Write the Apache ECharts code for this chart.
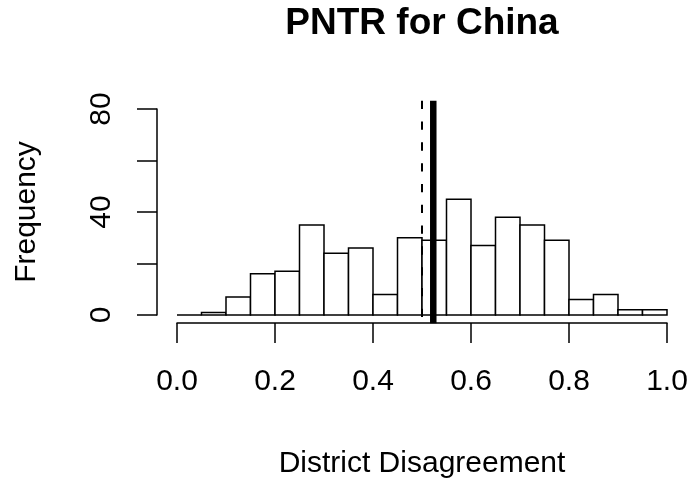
<!DOCTYPE html>
<html>
<head>
<meta charset="utf-8">
<script src="https://cdn.jsdelivr.net/npm/echarts@6/dist/echarts.min.js"></script>
<style>
  html, body { margin: 0; padding: 0; background: #fff; }
  #chart { width: 692px; height: 482px; }
</style>
</head>
<body>
<div id="chart"></div>
<script>
// histogram bins (left edges + last right edge) and counts
const breaks = [0.0, 0.05, 0.1, 0.15, 0.2, 0.25, 0.3, 0.35, 0.4, 0.45, 0.5,
  0.55, 0.6, 0.65, 0.7, 0.75, 0.8, 0.85, 0.9, 0.95, 1.0]
const counts = [0, 1, 7, 16, 17, 35, 24, 26, 8, 30, 29, 45, 27, 38, 35, 29, 6, 8, 2, 2]
// vertical reference lines
const dashedAt = 0.5
const solidAt = 0.523
// axis ticks
const xTicks = [0, 0.2, 0.4, 0.6, 0.8, 1.0]
const yTicks = [0, 20, 40, 60, 80]
const yLabels = [0, 40, 80]
// plot region edges in data units (R extends the range by 4%)
const yLow = -3.2
const yHigh = 83.2

const font = 'Liberation Sans, Arial, sans-serif'
const chart = echarts.init(document.getElementById('chart'))

const bins = counts.map((c, i) => [breaks[i], breaks[i + 1], c])

const option = {
  animation: false,
  backgroundColor: '#fff',
  title: {
    text: 'PNTR for China',
    left: 417,
    textAlign: 'center',
    top: 0,
    textStyle: { fontFamily: font, fontSize: 37, fontWeight: 'bold', color: '#000' }
  },
  grid: { left: 177, right: 25, top: 109, bottom: 167 },
  xAxis: {
    type: 'value',
    min: xTicks[0],
    max: xTicks[xTicks.length - 1],
    interval: 0.2,
    offset: 8,
    name: 'District Disagreement',
    nameLocation: 'middle',
    nameGap: 126,
    nameTextStyle: { fontFamily: font, fontSize: 30, color: '#000' },
    axisLine: { show: true, onZero: false, lineStyle: { color: '#000', width: 1.5 } },
    axisTick: { show: true, length: 20, lineStyle: { color: '#000', width: 1.5 } },
    axisLabel: {
      margin: 44,
      fontFamily: font,
      fontSize: 30,
      color: '#000',
      formatter: (v) => v.toFixed(1)
    },
    splitLine: { show: false }
  },
  yAxis: {
    type: 'value',
    min: yTicks[0],
    max: yTicks[yTicks.length - 1],
    interval: 20,
    offset: 20,
    name: 'Frequency',
    nameLocation: 'middle',
    nameRotate: 90,
    nameGap: 115,
    nameTextStyle: { fontFamily: font, fontSize: 30, color: '#000' },
    axisLine: { show: true, onZero: false, lineStyle: { color: '#000', width: 1.5 } },
    axisTick: { show: true, length: 20, lineStyle: { color: '#000', width: 1.5 } },
    axisLabel: {
      margin: 40,
      rotate: 90,
      fontFamily: font,
      fontSize: 30,
      color: '#000',
      formatter: (v) => (yLabels.includes(v) ? String(v) : '')
    },
    splitLine: { show: false }
  },
  series: [
    {
      type: 'custom',
      data: bins,
      encode: { x: [0, 1], y: 2 },
      z: 2,
      renderItem: (params, api) => {
        const p0 = api.coord([api.value(0), 0])
        const p1 = api.coord([api.value(1), api.value(2)])
        return {
          type: 'rect',
          shape: { x: p0[0], y: p1[1], width: p1[0] - p0[0], height: p0[1] - p1[1] },
          style: { fill: '#fff', stroke: '#000', lineWidth: 1.5 }
        }
      }
    },
    {
      type: 'line',
      data: [[dashedAt, yHigh], [dashedAt, yLow]],
      symbol: 'none',
      clip: false,
      z: 3,
      lineStyle: { color: '#000', width: 2, type: [8.3, 12.5] }
    },
    {
      type: 'line',
      data: [[solidAt, yHigh], [solidAt, yLow]],
      symbol: 'none',
      clip: false,
      z: 3,
      lineStyle: { color: '#000', width: 6.5 }
    }
  ]
}

chart.setOption(option)
</script>
</body>
</html>
